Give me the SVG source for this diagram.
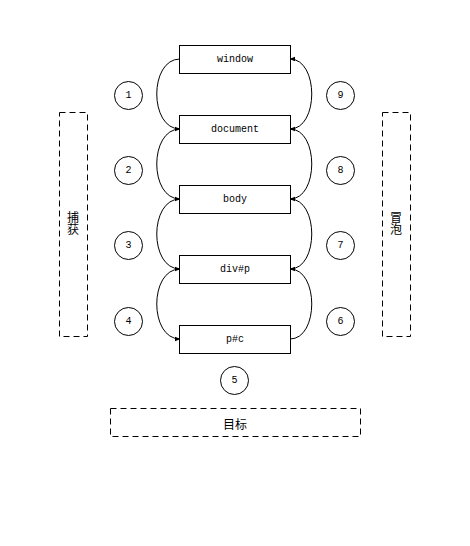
<svg xmlns="http://www.w3.org/2000/svg" width="470" height="546" viewBox="0 0 470 546">
<defs>
<style>
.box{fill:#fff;stroke:#000;stroke-width:1}
.dash{fill:none;stroke:#000;stroke-width:1;stroke-dasharray:6 4}
.circ{fill:#fff;stroke:#000;stroke-width:1}
.lbl{font-family:"Liberation Mono","DejaVu Sans Mono",monospace;font-size:10px;fill:#000;text-anchor:middle;dominant-baseline:central}
.cjk{font-family:"Noto Sans CJK SC","Liberation Sans",sans-serif;font-size:12px;fill:#000;text-anchor:middle;dominant-baseline:central}
.vert{font-family:"Noto Sans CJK SC","Liberation Sans",sans-serif;font-size:12px;fill:#000;text-anchor:middle;writing-mode:vertical-rl}
.edge{fill:none;stroke:#000;stroke-width:1;marker-end:url(#arr)}
</style>
<marker id="arr" viewBox="0 0 10 10" refX="9" refY="5" markerWidth="6" markerHeight="6" markerUnits="userSpaceOnUse" orient="auto">
<path d="M0,1 L10,5 L0,9 Z" fill="#000"/>
</marker>
</defs>
<rect width="470" height="546" fill="#fff"/>
<g id="connectors">
<path class="edge" d="M180,59 C149,59 149,129 180,129"/>
<path class="edge" d="M180,129 C149,129 149,199 180,199"/>
<path class="edge" d="M180,199 C149,199 149,269 180,269"/>
<path class="edge" d="M180,269 C149,269 149,339 180,339"/>
<path class="edge" d="M290,339 C319,339 319,269 290,269"/>
<path class="edge" d="M290,269 C319,269 319,199 290,199"/>
<path class="edge" d="M290,199 C319,199 319,129 290,129"/>
<path class="edge" d="M290,129 C319,129 319,59 290,59"/>
</g>
<g id="capture">
<rect class="dash" x="59.5" y="112.5" width="28" height="224"/>
<text class="vert" x="73" y="223">捕获</text>
</g>
<g id="bubble">
<rect class="dash" x="382.5" y="112.5" width="28" height="224"/>
<text class="vert" x="396" y="223">冒泡</text>
</g>
<g id="target">
<rect class="dash" x="110.5" y="408.5" width="250" height="28"/>
<text class="cjk" x="235" y="423">目标</text>
</g>
<g id="window"><rect class="box" x="179.5" y="45.5" width="111" height="28"/><text class="lbl" x="235" y="59.5">window</text></g>
<g id="document"><rect class="box" x="179.5" y="115.5" width="111" height="28"/><text class="lbl" x="235" y="129.5">document</text></g>
<g id="body"><rect class="box" x="179.5" y="185.5" width="111" height="28"/><text class="lbl" x="235" y="199.5">body</text></g>
<g id="divp"><rect class="box" x="179.5" y="255.5" width="111" height="28"/><text class="lbl" x="235" y="269.5">div#p</text></g>
<g id="pc"><rect class="box" x="179.5" y="325.5" width="111" height="28"/><text class="lbl" x="235" y="339.5">p#c</text></g>
<g id="n1"><circle class="circ" cx="128.5" cy="95.5" r="14"/><text class="lbl" x="128.5" y="95.5">1</text></g>
<g id="n2"><circle class="circ" cx="128.5" cy="170.5" r="14"/><text class="lbl" x="128.5" y="170.5">2</text></g>
<g id="n3"><circle class="circ" cx="128.5" cy="245.5" r="14"/><text class="lbl" x="128.5" y="245.5">3</text></g>
<g id="n4"><circle class="circ" cx="128.5" cy="321.5" r="14"/><text class="lbl" x="128.5" y="321.5">4</text></g>
<g id="n5"><circle class="circ" cx="234.5" cy="380.5" r="14"/><text class="lbl" x="234.5" y="380.5">5</text></g>
<g id="n6"><circle class="circ" cx="340.5" cy="321.5" r="14"/><text class="lbl" x="340.5" y="321.5">6</text></g>
<g id="n7"><circle class="circ" cx="340.5" cy="245.5" r="14"/><text class="lbl" x="340.5" y="245.5">7</text></g>
<g id="n8"><circle class="circ" cx="340.5" cy="170.5" r="14"/><text class="lbl" x="340.5" y="170.5">8</text></g>
<g id="n9"><circle class="circ" cx="340.5" cy="95.5" r="14"/><text class="lbl" x="340.5" y="95.5">9</text></g>
</svg>
